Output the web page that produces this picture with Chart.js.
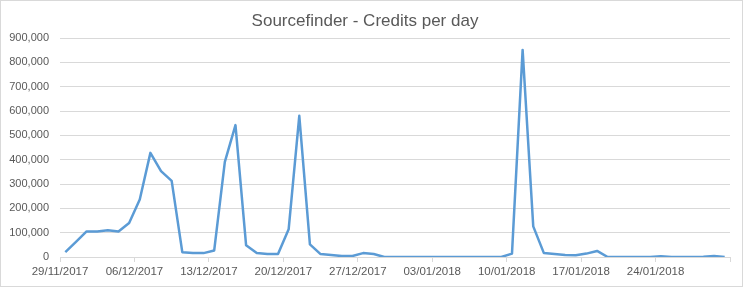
<!DOCTYPE html>
<html>
<head>
<meta charset="utf-8">
<script src="https://cdn.jsdelivr.net/npm/chart.js@4.4.1/dist/chart.umd.min.js"></script>
<style>
  body { margin: 0; background: #fff; }
</style>
</head>
<body>
<canvas id="creditsChart" width="745" height="288"></canvas>
<script>
// Sourcefinder credits per day, 29/11/2017 - 30/01/2018
const startDate = new Date(2017, 10, 29);
const dayCount = 63;
const credits = [
    20000, 62000, 105000, 105000, 110000, 105000, 140000, 236000, 428000, 353000,
    313000, 20000, 16000, 16000, 27000, 391000, 542000, 48000, 16000, 12000,
    12000, 114000, 580000, 52000, 12000, 8000, 4000, 4000, 16000, 12000,
    0, 0, 0, 0, 0, 0, 0, 0, 0, 0,
    0, 0, 14000, 851000, 126000, 16000, 12000, 8000, 7000, 14000,
    25000, 0, 0, 0, 0, 0, 3000, 0, 0, 0,
    1000, 4000, 0
];
const yTicks = [0, 100000, 200000, 300000, 400000, 500000, 600000, 700000, 800000, 900000];

// dd/mm/yyyy labels, one per day
const days = [];
for (let i = 0; i < dayCount; i++) {
    const d = new Date(startDate.getFullYear(), startDate.getMonth(), startDate.getDate() + i);
    const dd = String(d.getDate()).padStart(2, '0');
    const mm = String(d.getMonth() + 1).padStart(2, '0');
    days.push(dd + '/' + mm + '/' + d.getFullYear());
}

const grey = '#d9d9d9';
const textColor = '#595959';
const fontFamily = '"Liberation Sans", Arial, sans-serif';

// white background + thin frame like the Excel chart area
const frame = {
    id: 'frame',
    beforeDraw(chart) {
        const c = chart.ctx;
        c.save();
        c.fillStyle = '#fff';
        c.fillRect(0, 0, chart.width, chart.height);
        c.strokeStyle = grey;
        c.lineWidth = 1;
        c.strokeRect(0.5, 0.5, 742, 286);
        c.restore();
    }
};

const ctx = document.getElementById('creditsChart').getContext('2d');
new Chart(ctx, {
    type: 'line',
    data: {
        labels: days,
        datasets: [{
            label: 'Credits',
            data: credits,
            borderColor: '#5b9bd5',
            borderWidth: 2.5,
            tension: 0,
            pointRadius: 0,
            borderJoinStyle: 'round',
            fill: false
        }]
    },
    options: {
        responsive: false,
        animation: false,
        layout: { padding: { left: 0, right: 15, top: 0, bottom: 0 } },
        plugins: {
            legend: { display: false },
            tooltip: { enabled: false },
            title: {
                display: true,
                text: 'Sourcefinder - Credits per day',
                color: textColor,
                font: { family: fontFamily, size: 17, weight: 'normal' },
                padding: { top: 11, bottom: 6.6 }
            }
        },
        scales: {
            x: {
                type: 'category',
                offset: true,
                afterFit: function(scale) { scale.height = 31; },
                grid: {
                    offset: true,
                    drawOnChartArea: false,
                    drawTicks: true,
                    tickLength: 5,
                    color: function(c) {
                        return (c.index === undefined || c.index % 7 === 0) ? grey : 'rgba(0,0,0,0)';
                    }
                },
                border: { display: true, color: grey },
                ticks: {
                    autoSkip: false,
                    maxRotation: 0,
                    minRotation: 0,
                    padding: 3,
                    labelOffset: -5.3,
                    color: textColor,
                    font: { family: fontFamily, size: 11.5 },
                    callback: function(value, index) {
                        return index % 7 === 0 ? days[index] : '';
                    }
                }
            },
            y: {
                min: yTicks[0],
                max: yTicks[yTicks.length - 1],
                afterFit: function(scale) { scale.width = 60; },
                afterBuildTicks: function(scale) {
                    scale.ticks = yTicks.map(v => ({ value: v }));
                },
                grid: { color: grey, drawTicks: false },
                border: { display: false },
                ticks: {
                    padding: 11,
                    color: textColor,
                    font: { family: fontFamily, size: 11 },
                    callback: function(value) {
                        return value.toLocaleString('en-US');
                    }
                }
            }
        }
    },
    plugins: [frame]
});
</script>
</body>
</html>
